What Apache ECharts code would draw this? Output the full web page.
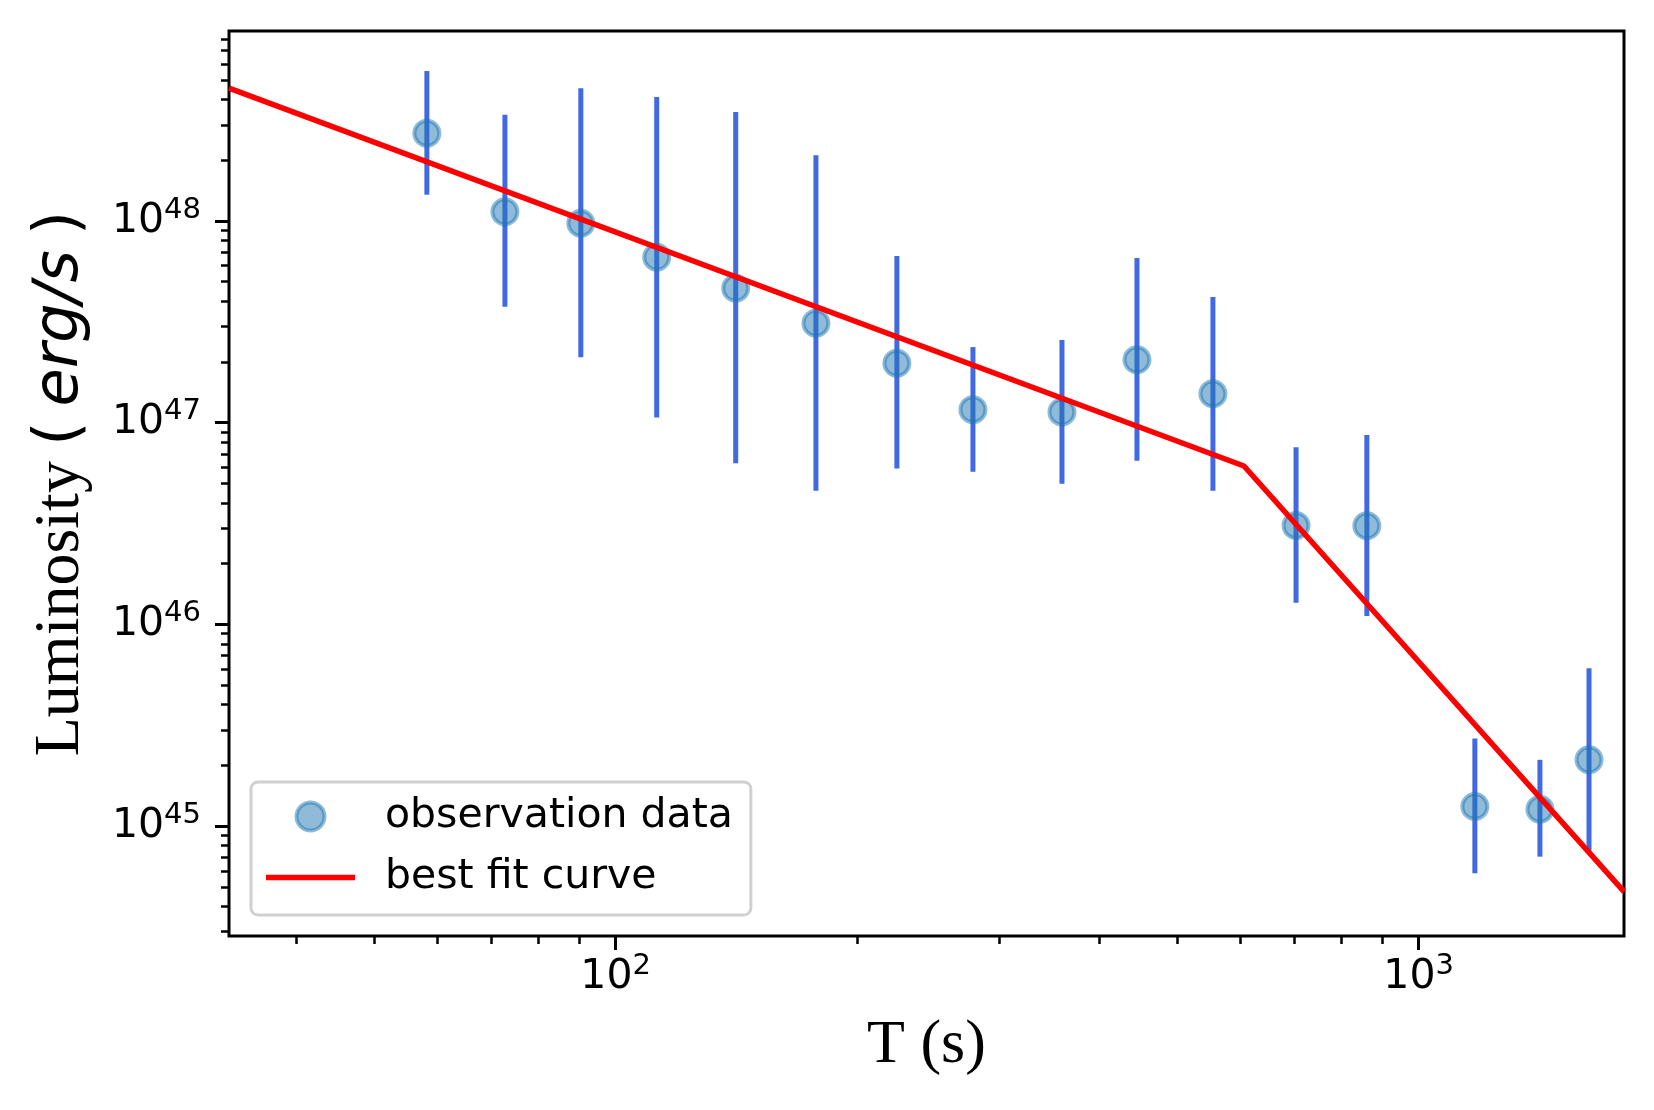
<!DOCTYPE html>
<html>
<head>
<meta charset="utf-8">
<script src="https://cdn.jsdelivr.net/npm/echarts@6/dist/echarts.min.js"></script>
<style>
  html, body { margin: 0; padding: 0; background: #fff; }
  #chart { width: 1654px; height: 1110px; }
</style>
</head>
<body>
<div id="chart"></div>
<script>
// observation data (T in s, luminosity in erg/s)
const timeS = [58.2, 72.8, 90.5, 112.5, 141.1, 177.6, 224.0, 278.6, 359.6, 445.9, 554.4, 703.6, 862.0, 1175, 1416, 1630];
const lumi = [2.72e48, 1.11e48, 9.74e47, 6.61e47, 4.64e47, 3.11e47, 1.97e47, 1.16e47, 1.13e47, 2.05e47, 1.39e47, 3.09e46, 3.08e46, 1.25e45, 1.21e45, 2.13e45];
const lumiLow = [1.35e48, 3.76e47, 2.11e47, 1.06e47, 6.29e46, 4.60e46, 5.92e46, 5.71e46, 4.98e46, 6.48e46, 4.60e46, 1.28e46, 1.10e46, 5.83e44, 7.05e44, 7.55e44];
const lumiHigh = [5.54e48, 3.36e48, 4.55e48, 4.12e48, 3.47e48, 2.12e48, 6.71e47, 2.37e47, 2.57e47, 6.56e47, 4.20e47, 7.55e46, 8.69e46, 2.72e45, 2.13e45, 6.06e45];

// broken power law fit
const fitT = [33.0, 606, 1802];
const fitL = [4.56e48, 6.10e46, 4.73e44];

// axis ranges and decade ticks
const xRange = [33.0, 1802];
const yRange = [2.85e44, 8.75e48];
const xDecades = [2, 3];
const yDecades = [45, 46, 47, 48];

const lg = Math.log10;

// minor ticks at 2..9 x 10^n inside the range
function minorTicks(range) {
    const out = [];
    for (let e = Math.floor(lg(range[0])); e <= Math.ceil(lg(range[1])); e++) {
        for (let k = 2; k <= 9; k++) {
            const v = k * Math.pow(10, e);
            if (v >= range[0] && v <= range[1]) out.push(lg(v));
        }
    }
    return out;
}

const powLabel = v => '{b|10}{s|' + Math.round(v) + '}';
const labelRich = {
    b: { fontSize: 41, lineHeight: 41, fontFamily: 'DejaVu Sans', color: '#000', verticalAlign: 'bottom' },
    s: { fontSize: 29, lineHeight: 29, fontFamily: 'DejaVu Sans', color: '#000', verticalAlign: 'bottom', padding: [0, 0, 17, 0] }
};

function majorAxis(range, decades, extra) {
    return Object.assign({
        type: 'value',
        gridIndex: 0,
        min: lg(range[0]),
        max: lg(range[1]),
        axisLine: { show: false },
        splitLine: { show: false },
        axisTick: { show: true, customValues: decades, length: 14, lineStyle: { color: '#000', width: 3 } },
        axisLabel: { customValues: decades, formatter: powLabel, rich: labelRich }
    }, extra);
}

function minorAxis(range, position) {
    return {
        type: 'value',
        gridIndex: 0,
        position: position,
        min: lg(range[0]),
        max: lg(range[1]),
        axisLine: { show: false },
        splitLine: { show: false },
        axisLabel: { show: false },
        axisTick: { show: true, customValues: minorTicks(range), length: 8, lineStyle: { color: '#000', width: 2.5 } }
    };
}

const markerStyle = { color: 'rgba(31,119,180,0.5)', borderColor: 'rgba(31,119,180,0.5)', borderWidth: 4, opacity: 1 };

const chart = echarts.init(document.getElementById('chart'));
chart.setOption({
    backgroundColor: '#fff',
    animation: false,
    grid: {
        left: 229, right: 30, top: 31, bottom: 174,
        show: true, borderColor: '#000', borderWidth: 3, backgroundColor: 'transparent'
    },
    legend: {
        orient: 'vertical',
        left: 251, top: 782,
        data: [
            { name: 'observation data', icon: 'circle', itemStyle: markerStyle },
            { name: 'best fit curve', icon: 'path://M0,0 L89,0 L89,5.5 L0,5.5 Z' }
        ],
        itemWidth: 89, itemHeight: 28, itemGap: 20,
        padding: [14, 18, 17, 15],
        borderColor: '#d0d0d0', borderWidth: 3, borderRadius: 7,
        backgroundColor: '#fff',
        textStyle: { fontSize: 41, fontFamily: 'DejaVu Sans', color: '#000', padding: [0, 0, 0, 25] }
    },
    xAxis: [
        majorAxis(xRange, xDecades, {
            position: 'bottom',
            name: 'T (s)', nameLocation: 'middle', nameGap: 79,
            nameTextStyle: { fontSize: 62, fontFamily: 'Liberation Serif', color: '#000' },
            axisLabel: { customValues: xDecades, formatter: powLabel, rich: labelRich, margin: 21 }
        }),
        minorAxis(xRange, 'bottom')
    ],
    yAxis: [
        majorAxis(yRange, yDecades, {
            position: 'left',
            name: '{a|Luminosity}{sp| }{b|(}{sp| }{c|erg/s}{sp| }{b|)}', nameLocation: 'middle', nameGap: 137, nameRotate: 90,
            nameTextStyle: {
                rich: {
                    a: { fontSize: 64, lineHeight: 62, fontFamily: 'Liberation Serif', color: '#000' },
                    sp: { fontSize: 48, lineHeight: 62, fontFamily: 'DejaVu Sans', color: '#000' },
                    b: { fontSize: 62, lineHeight: 62, fontFamily: 'DejaVu Sans', color: '#000' },
                    c: { fontSize: 62, lineHeight: 62, fontFamily: 'DejaVu Sans', fontStyle: 'italic', color: '#000' }
                }
            },
            axisLabel: { customValues: yDecades, formatter: powLabel, rich: labelRich, margin: 28 }
        }),
        minorAxis(yRange, 'left')
    ],
    series: [
        {
            // 误差棒
            type: 'custom',
            name: 'error',
            xAxisIndex: 0, yAxisIndex: 0,
            z: 1,
            data: timeS.map((t, i) => [lg(t), lg(lumiLow[i]), lg(lumiHigh[i])]),
            encode: { x: 0, y: [1, 2] },
            renderItem: (params, api) => {
                const lo = api.coord([api.value(0), api.value(1)]);
                const hi = api.coord([api.value(0), api.value(2)]);
                return {
                    type: 'line',
                    shape: { x1: lo[0], y1: lo[1], x2: hi[0], y2: hi[1] },
                    style: { stroke: '#4169e1', lineWidth: 5 }
                };
            }
        },
        {
            type: 'scatter',
            name: 'observation data',
            xAxisIndex: 0, yAxisIndex: 0,
            z: 2,
            symbol: 'circle',
            symbolSize: 25,
            itemStyle: markerStyle,
            data: timeS.map((t, i) => [lg(t), lg(lumi[i])])
        },
        {
            type: 'line',
            name: 'best fit curve',
            xAxisIndex: 0, yAxisIndex: 0,
            z: 3,
            symbol: 'none',
            color: '#ff0000',
            lineStyle: { color: '#ff0000', width: 5.5 },
            data: fitT.map((t, i) => [lg(t), lg(fitL[i])])
        }
    ]
});
</script>
</body>
</html>
